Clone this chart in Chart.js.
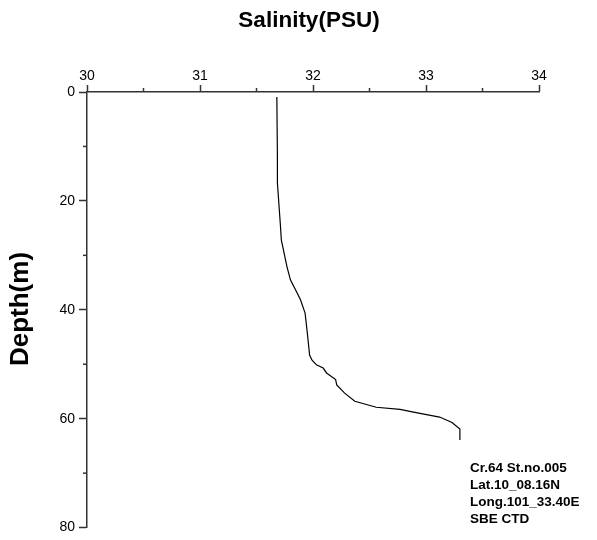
<!DOCTYPE html>
<html><head><meta charset="utf-8">
<script src="https://cdn.jsdelivr.net/npm/chart.js@4.4.0/dist/chart.umd.min.js"></script>
<style>html,body{margin:0;padding:0;background:#fff}#wrap{width:597px;height:540px;position:relative}</style>
</head><body><div id="wrap"><canvas id="c" width="597" height="540"></canvas></div>
<script>
// Depth (m) and salinity (PSU) read from the profile
const depth    = [0.9, 11.9, 16.7, 24.0, 27.2, 32.1, 34.5, 36.9, 38.2, 40.6, 44.3, 48.3, 49.2, 50.1, 50.7, 51.6, 52.8, 53.8, 55.3, 56.8, 57.9, 58.3, 58.8, 59.7, 60.7, 61.9, 63.9];
const salinity = [31.68, 31.685, 31.685, 31.71, 31.72, 31.77, 31.80, 31.86, 31.89, 31.93, 31.95, 31.97, 31.99, 32.03, 32.09, 32.12, 32.20, 32.21, 32.28, 32.37, 32.56, 32.77, 32.89, 33.12, 33.23, 33.30, 33.30];
const xTicks = [30, 31, 32, 33, 34];
const yTicks = [0, 20, 40, 60, 80];
const xMinor = [30.5, 31.5, 32.5, 33.5];
const yMinor = [10, 30, 50, 70];
const xTitle = 'Salinity(PSU)';
const yTitle = 'Depth(m)';
const stationInfo = ['Cr.64 St.no.005', 'Lat.10_08.16N', 'Long.101_33.40E', 'SBE CTD'];

const FONT = "'Liberation Sans', Arial, sans-serif";
const AXIS = '#333';

const extras = {
  id: 'extras',
  afterDraw(chart) {
    const ctx = chart.ctx, xs = chart.scales.x, ys = chart.scales.y, a = chart.chartArea;
    ctx.save();
    ctx.strokeStyle = AXIS; ctx.lineWidth = 1.5;
    xMinor.forEach(v => { const p = xs.getPixelForValue(v); ctx.beginPath(); ctx.moveTo(p, a.top); ctx.lineTo(p, a.top - 4); ctx.stroke(); });
    yMinor.forEach(v => { const p = ys.getPixelForValue(v); ctx.beginPath(); ctx.moveTo(a.left, p); ctx.lineTo(a.left - 4, p); ctx.stroke(); });
    ctx.fillStyle = '#000';
    ctx.font = "bold 22.5px " + FONT;
    ctx.textAlign = 'center'; ctx.textBaseline = 'middle';
    ctx.fillText(xTitle, 309, 21);
    ctx.save();
    ctx.font = "bold 26px " + FONT;
    ctx.translate(21, 309); ctx.rotate(-Math.PI / 2);
    ctx.fillText(yTitle, 0, 0);
    ctx.restore();
    ctx.font = "bold 13.5px " + FONT;
    ctx.textAlign = 'left';
    stationInfo.forEach((t, i) => ctx.fillText(t, 470, 468 + i * 17));
    ctx.restore();
  }
};

new Chart(document.getElementById('c'), {
  type: 'scatter',
  data: {
    datasets: [{
      data: depth.map((d, i) => ({ x: salinity[i], y: d })),
      showLine: true, borderColor: '#000', borderWidth: 1.2,
      pointRadius: 0, fill: false, tension: 0
    }]
  },
  options: {
    responsive: false, animation: false, devicePixelRatio: 1,
    layout: { padding: { left: 0, right: 58, top: 0, bottom: 12 } },
    plugins: { legend: { display: false }, tooltip: { enabled: false } },
    scales: {
      x: {
        type: 'linear', position: 'top', min: 30, max: 34,
        afterBuildTicks: s => { s.ticks = xTicks.map(v => ({ value: v })); },
        afterFit: s => { s.height = 92; },
        ticks: { font: { family: FONT, size: 14 }, color: '#000', padding: 0, maxRotation: 0, autoSkip: false },
        grid: { drawOnChartArea: false, drawTicks: true, tickLength: 7, tickColor: AXIS, tickWidth: 1.5 },
        border: { display: true, color: AXIS, width: 1.5 }
      },
      y: {
        type: 'linear', position: 'left', min: 0, max: 80, reverse: true,
        afterBuildTicks: s => { s.ticks = yTicks.map(v => ({ value: v })); },
        afterFit: s => { s.width = 87; },
        ticks: { font: { family: FONT, size: 14 }, color: '#000', padding: 4, autoSkip: false },
        grid: { drawOnChartArea: false, drawTicks: true, tickLength: 8, tickColor: AXIS, tickWidth: 1.5 },
        border: { display: true, color: AXIS, width: 1.5 }
      }
    }
  },
  plugins: [extras]
});
</script>
</body></html>
